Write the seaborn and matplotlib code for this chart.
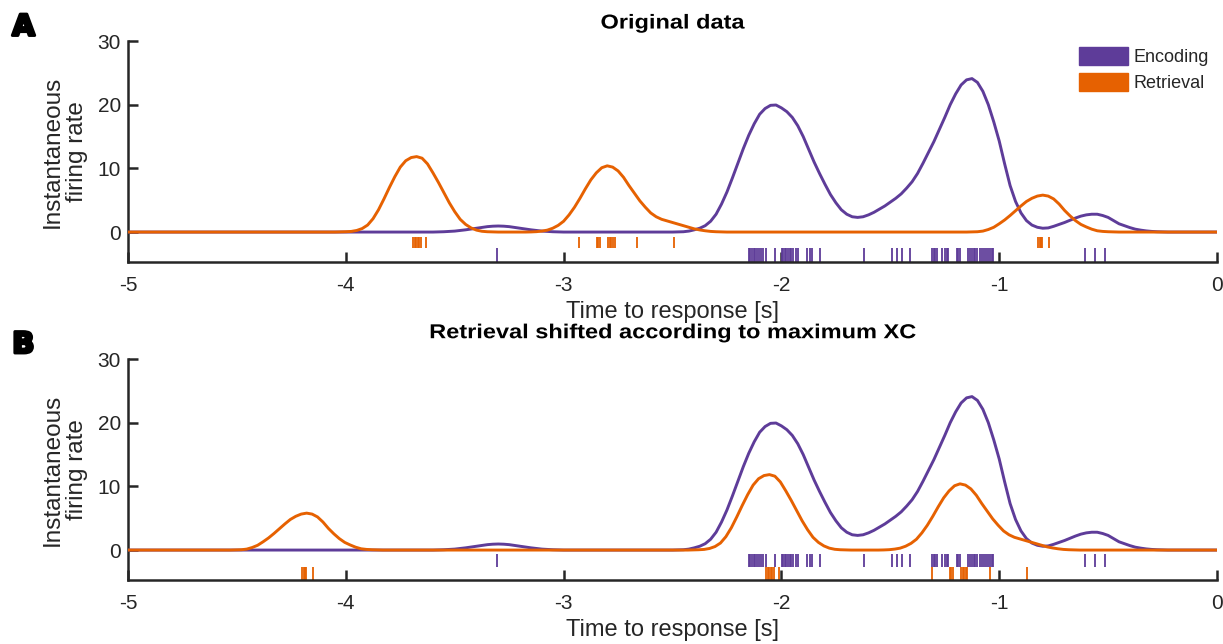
import numpy as np
import pandas as pd
import matplotlib
matplotlib.use("Agg")
import matplotlib.pyplot as plt
import matplotlib.patheffects as pe
from matplotlib.transforms import Affine2D
from matplotlib.patches import Patch
import seaborn as sns

# ---------------- data ----------------
# sample times of the instantaneous firing rate: -5.000, -4.975, ..., 0.000 s
time_grid = np.round(np.linspace(-5.0, 0.0, 201), 3)

# instantaneous firing rate, encoding (one value per 0.025 s, 8 values per row)
encoding_rate = [
    0, 0, 0, 0, 0, 0, 0, 0,                                   # -5.00
    0, 0, 0, 0, 0, 0, 0, 0,                                   # -4.80
    0, 0, 0, 0, 0, 0, 0, 0,                                   # -4.60
    0, 0, 0, 0, 0, 0, 0, 0,                                   # -4.40
    0, 0, 0, 0, 0, 0, 0, 0,                                   # -4.20
    0, 0, 0, 0, 0, 0, 0, 0,                                   # -4.00
    0, 0, 0, 0, 0, 0, 0, 0,                                   # -3.80
    0, 0.02, 0.05, 0.1, 0.15, 0.25, 0.35, 0.47,               # -3.60
    0.6, 0.73, 0.85, 0.92, 0.95, 0.92, 0.85, 0.73,            # -3.40
    0.6, 0.47, 0.35, 0.25, 0.15, 0.1, 0.05, 0.02,             # -3.20
    0, 0, 0, 0, 0, 0, 0, 0,                                   # -3.00
    0, 0, 0, 0, 0, 0, 0, 0,                                   # -2.80
    0, 0, 0, 0, 0, 0.02, 0.05, 0.15,                          # -2.60
    0.35, 0.6, 1.0, 1.7, 2.8, 4.4, 6.3, 8.5,                  # -2.40
    10.8, 13.1, 15.2, 17.0, 18.5, 19.4, 19.9, 19.95,          # -2.20
    19.5, 18.9, 18.0, 16.7, 15.0, 13.0, 11.0, 9.2,            # -2.00
    7.5, 5.9, 4.6, 3.5, 2.8, 2.4, 2.3, 2.4,                   # -1.80
    2.7, 3.1, 3.6, 4.1, 4.7, 5.3, 6.0, 6.9,                   # -1.60
    7.9, 9.2, 10.8, 12.5, 14.2, 16.1, 18.0, 20.0,             # -1.40
    21.7, 23.1, 23.9, 24.1, 23.5, 22.1, 20.0, 17.3,           # -1.20
    14.3, 10.7, 7.3, 4.8, 3.0, 1.8, 1.1, 0.75,                # -1.00
    0.6, 0.65, 0.9, 1.2, 1.5, 1.85, 2.2, 2.5,                 # -0.80
    2.7, 2.8, 2.8, 2.6, 2.3, 1.8, 1.3, 1.0,                   # -0.60
    0.7, 0.45, 0.3, 0.18, 0.1, 0.05, 0.02, 0,                 # -0.40
    0, 0, 0, 0, 0, 0, 0, 0,                                   # -0.20
    0,                                                        #  0.00
]

# instantaneous firing rate, retrieval (original timing)
retrieval_rate = [
    0, 0, 0, 0, 0, 0, 0, 0,                                   # -5.00
    0, 0, 0, 0, 0, 0, 0, 0,                                   # -4.80
    0, 0, 0, 0, 0, 0, 0, 0,                                   # -4.60
    0, 0, 0, 0, 0, 0, 0, 0,                                   # -4.40
    0, 0, 0, 0, 0, 0, 0, 0.02,                                # -4.20
    0.05, 0.1, 0.25, 0.55, 1.1, 2.1, 3.5, 5.2,                # -4.00
    7.0, 8.7, 10.2, 11.2, 11.7, 11.85, 11.6, 10.7,            # -3.80
    9.3, 7.8, 6.2, 4.6, 3.2, 2.0, 1.2, 0.65,                  # -3.60
    0.3, 0.12, 0.05, 0.02, 0, 0, 0, 0,                        # -3.40
    0, 0, 0.02, 0.06, 0.15, 0.3, 0.6, 1.05,                   # -3.20
    1.7, 2.7, 3.9, 5.3, 6.8, 8.2, 9.3, 10.1,                  # -3.00
    10.4, 10.2, 9.6, 8.6, 7.3, 6.1, 4.9, 3.9,                 # -2.80
    3.0, 2.4, 2.0, 1.75, 1.5, 1.25, 1.0, 0.75,                # -2.60
    0.5, 0.33, 0.2, 0.1, 0.05, 0.02, 0, 0,                    # -2.40
    0, 0, 0, 0, 0, 0, 0, 0,                                   # -2.20
    0, 0, 0, 0, 0, 0, 0, 0,                                   # -2.00
    0, 0, 0, 0, 0, 0, 0, 0,                                   # -1.80
    0, 0, 0, 0, 0, 0, 0, 0,                                   # -1.60
    0, 0, 0, 0, 0, 0, 0, 0,                                   # -1.40
    0, 0, 0, 0.02, 0.05, 0.15, 0.4, 0.75,                     # -1.20
    1.3, 1.9, 2.6, 3.35, 4.1, 4.8, 5.3, 5.65,                 # -1.00
    5.8, 5.65, 5.2, 4.4, 3.4, 2.55, 1.8, 1.2,                 # -0.80
    0.8, 0.45, 0.2, 0.1, 0.05, 0.02, 0, 0,                    # -0.60
    0, 0, 0, 0, 0, 0, 0, 0,                                   # -0.40
    0, 0, 0, 0, 0, 0, 0, 0,                                   # -0.20
    0,                                                        #  0.00
]

# spike times [s]
encoding_spikes = [
    -3.304,
    -2.150, -2.143, -2.136, -2.128, -2.120, -2.112, -2.104, -2.096, -2.085, -2.070,
    -2.029,
    -1.999, -1.992, -1.985, -1.978, -1.970, -1.962, -1.955, -1.945, -1.935, -1.925,
    -1.881, -1.870, -1.861, -1.823, -1.619,
    -1.494, -1.471, -1.448, -1.410,
    -1.307, -1.300, -1.293, -1.285, -1.265, -1.250, -1.242, -1.234,
    -1.196, -1.188, -1.182,
    -1.142, -1.134, -1.126, -1.118, -1.110, -1.100, -1.090, -1.080, -1.070,
    -1.060, -1.050, -1.042, -1.035, -1.027,
    -0.606, -0.560, -0.514,
]
retrieval_spikes = [
    -3.690, -3.683, -3.676, -3.669, -3.662, -3.655, -3.632,
    -2.928, -2.848, -2.840, -2.834, -2.795, -2.788, -2.781, -2.774, -2.766,
    -2.664, -2.492,
    -0.820, -0.814, -0.809, -0.803, -0.770,
]

xc_lag = 1.62           # lag of maximum cross-correlation [s]
window = 5.0            # length of the analysis window [s]

series_names = ["Encoding", "Retrieval"]
panel_titles = ["Original data", "Retrieval shifted according to maximum XC"]
panel_letters = ["A", "B"]
x_ticks = [-5, -4, -3, -2, -1, 0]
y_ticks = [0, 10, 20, 30]


# wide title lettering: stretch glyph outlines horizontally around a centre
class StretchX(pe.AbstractPathEffect):
    def __init__(self, sx, cx):
        super().__init__()
        self.sx = sx
        self.cx = cx

    def draw_path(self, renderer, gc, tpath, affine, rgbFace=None):
        t = affine + Affine2D().translate(-self.cx, 0).scale(self.sx, 1).translate(self.cx, 0)
        renderer.draw_path(gc, tpath, t, rgbFace)


# ---------------- style ----------------
sns.set_theme(style="ticks")
plt.rcParams["font.family"] = ["Liberation Sans", "DejaVu Sans"]
plt.rcParams["axes.unicode_minus"] = False

c_enc = "#5e3c99"
c_ret = "#e66101"
spine_c = "#262626"
text_c = "#262626"

W, H, DPI = 12.23, 6.44, 100
fig = plt.figure(figsize=(W, H), dpi=DPI)
ax_rect_a = [0.1047, 0.5932, 0.8904, 0.3431]
ax_rect_b = [0.1047, 0.0994, 0.8904, 0.3431]
ax_a = fig.add_axes(ax_rect_a)
ax_b = fig.add_axes(ax_rect_b)
title_cx = (ax_rect_a[0] + ax_rect_a[2] / 2) * W * DPI

# shifted retrieval (circular shift inside the window)
t_arr = np.asarray(time_grid)
r_arr = np.asarray(retrieval_rate, dtype=float)
ret_shift_t = np.concatenate([t_arr + xc_lag - window, t_arr + xc_lag])
ret_shift_v = np.concatenate([r_arr, r_arr])
ret_spikes_shift = ((np.asarray(retrieval_spikes) + xc_lag + window) % window) - window

df_enc = pd.DataFrame({"t": t_arr, "rate": encoding_rate})
df_ret = pd.DataFrame({"t": t_arr, "rate": r_arr})
df_ret_b = pd.DataFrame({"t": ret_shift_t, "rate": ret_shift_v})

lw = 2.1
slw = 1.3
# Panel A
sns.lineplot(data=df_enc, x="t", y="rate", color=c_enc, lw=lw, ax=ax_a, zorder=3)
sns.lineplot(data=df_ret, x="t", y="rate", color=c_ret, lw=lw, ax=ax_a, zorder=4)
ax_a.vlines(retrieval_spikes, -0.8, -2.5, color=c_ret, lw=slw)
ax_a.vlines(encoding_spikes, -2.5, -4.7, color=c_enc, lw=slw)

# Panel B
sns.lineplot(data=df_enc, x="t", y="rate", color=c_enc, lw=lw, ax=ax_b, zorder=3)
sns.lineplot(data=df_ret_b, x="t", y="rate", color=c_ret, lw=lw, ax=ax_b, zorder=4, sort=False)
ax_b.vlines(encoding_spikes, -0.6, -2.7, color=c_enc, lw=slw)
ax_b.vlines(ret_spikes_shift, -2.7, -4.7, color=c_ret, lw=slw)

for ax, title, tpad in zip([ax_a, ax_b], panel_titles, [9, 15]):
    ax.set_xlim(-5, 0)
    ax.set_ylim(-4.7, 30)
    ax.set_xticks(x_ticks)
    ax.set_xticklabels([str(v) for v in x_ticks])
    ax.set_yticks(y_ticks)
    ax.set_yticklabels([str(v) for v in y_ticks])
    sns.despine(ax=ax)
    for s in ["left", "bottom"]:
        ax.spines[s].set_color(spine_c)
        ax.spines[s].set_linewidth(1.8)
    ax.tick_params(direction="in", length=7.5, width=1.8, color=spine_c,
                   labelsize=15, labelcolor=text_c)
    ax.tick_params(axis="x", pad=10)
    ax.tick_params(axis="y", pad=5)
    ax.set_xlabel("Time to response [s]", fontsize=17, color=text_c, labelpad=4.5)
    ax.set_ylabel("Instantaneous\nfiring rate", fontsize=17.5, color=text_c,
                  labelpad=7, linespacing=1.15)
    ax.set_title(title, fontsize=14.5, fontweight="bold", pad=tpad, color="black",
                 path_effects=[StretchX(1.17, title_cx)])
    ax.set_facecolor("white")

stroke = [pe.withStroke(linewidth=2.2, foreground="black")]
fig.text(0.010, 0.945, panel_letters[0], fontsize=21, fontweight="heavy",
         family="DejaVu Sans", color="black", path_effects=stroke)
fig.text(0.010, 0.452, panel_letters[1], fontsize=21, fontweight="heavy",
         family="DejaVu Sans", color="black", path_effects=stroke)

handles = [Patch(facecolor=c_enc, edgecolor=c_enc), Patch(facecolor=c_ret, edgecolor=c_ret)]
ax_a.legend(handles, series_names, loc="upper right", bbox_to_anchor=(1.003, 1.025),
            frameon=False, fontsize=13, handlelength=2.7, handleheight=1.15,
            handletextpad=0.3, labelspacing=0.35, borderaxespad=0.25)

fig.savefig("out.png", dpi=DPI, facecolor="white")
